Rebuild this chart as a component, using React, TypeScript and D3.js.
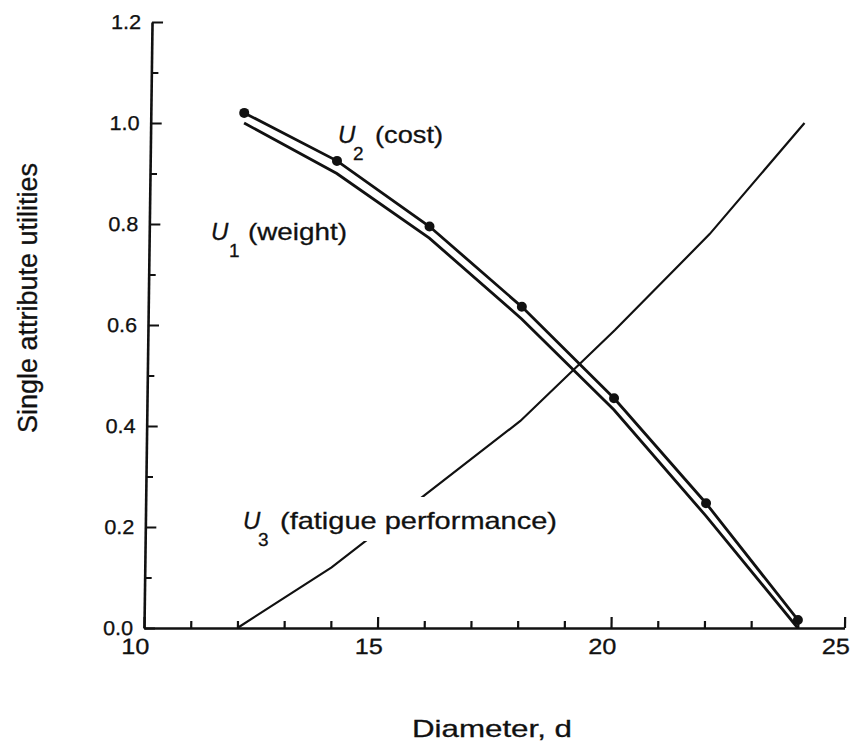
import { useEffect, useRef } from "react";
import * as d3 from "d3";

const W = 851;
const H = 747;

// diameter d at which the utilities were evaluated
const diameters = [12, 14, 16, 18, 20, 22, 24];
const costU2 = [1.02, 0.925, 0.795, 0.636, 0.455, 0.247, 0.016];
const weightU1 = [1.0, 0.9, 0.772, 0.612, 0.432, 0.222, 0.0];
const fatigueU3 = [0.0, 0.12, 0.265, 0.41, 0.59, 0.78, 1.0];

const yMajor = [0, 0.2, 0.4, 0.6, 0.8, 1.0, 1.2];
const yMinor = [0.1, 0.3, 0.5, 0.7, 0.9, 1.1];
const xMajor = [10, 15, 20, 25];
const xMinor = [11, 12, 13, 14, 16, 17, 18, 19, 21, 22, 23, 24];

// plot frame (px) – the scanned figure leans a little to the right at the top
const X0 = 144, X1 = 844.5;
const Y0 = 628, Y1 = 22;
const LEAN = -0.76; // degrees

const FONT = "'Liberation Sans', Arial, Helvetica, sans-serif";
const INK = "#111";

export default function App() {
  const svgRef = useRef<SVGSVGElement>(null);

  useEffect(() => {
    if (!svgRef.current) return;
    const svg = d3.select(svgRef.current);
    svg.selectAll("*").remove();

    const x = d3.scaleLinear().domain([10, 25]).range([X0, X1]);
    const y = d3.scaleLinear().domain([0, 1.2]).range([Y0, Y1]);

    svg.append("rect").attr("width", W).attr("height", H).attr("fill", "#fff");

    const g = svg.append("g")
      .attr("transform", `translate(0,${Y0}) skewX(${LEAN}) translate(0,${-Y0})`);

    const styleAxis = (sel: any, size: number) => {
      sel.attr("font-family", FONT).attr("font-size", size);
      sel.selectAll("text").attr("fill", INK).attr("stroke", INK).attr("stroke-width", 0.3);
      sel.selectAll("line").attr("stroke", INK).attr("stroke-width", 2.2);
      sel.select(".domain").attr("stroke", INK).attr("stroke-width", 2.6);
    };

    // ── Y axis ───────────────────────────────────────────────────────────────
    g.append("g")
      .attr("transform", `translate(${X0},0)`)
      .call(d3.axisLeft(y).tickValues(yMinor).tickSize(-7).tickSizeOuter(0).tickFormat(() => ""))
      .call((s: any) => styleAxis(s, 20))
      .call((s: any) => s.select(".domain").remove());

    g.append("g")
      .attr("transform", `translate(${X0},0)`)
      .call(d3.axisLeft(y).tickValues(yMajor).tickSize(-11).tickSizeOuter(0).tickPadding(11)
        .tickFormat(d3.format(".1f")))
      .call((s: any) => styleAxis(s, 20))
      .call((s: any) => s.selectAll("text").attr("textLength", 30).attr("lengthAdjust", "spacingAndGlyphs"));

    // ── X axis ───────────────────────────────────────────────────────────────
    g.append("g")
      .attr("transform", `translate(0,${Y0})`)
      .call(d3.axisBottom(x).tickValues(xMinor).tickSize(-7).tickSizeOuter(0).tickFormat(() => ""))
      .call((s: any) => styleAxis(s, 21))
      .call((s: any) => s.select(".domain").remove());

    g.append("g")
      .attr("transform", `translate(0,${Y0})`)
      .call(d3.axisBottom(x).tickValues(xMajor).tickSize(-11).tickSizeOuter(0).tickPadding(10)
        .tickFormat(d3.format("d")))
      .call((s: any) => styleAxis(s, 22))
      .call((s: any) => s.selectAll("text").attr("dx", -9).attr("textLength", 28).attr("lengthAdjust", "spacingAndGlyphs"));

    // ── Curves ───────────────────────────────────────────────────────────────
    const line = d3.line<number>()
      .x((_, i) => x(diameters[i]))
      .y(d => y(d));

    g.append("path")
      .attr("d", line(fatigueU3))
      .attr("fill", "none")
      .attr("stroke", INK)
      .attr("stroke-width", 2.2);

    // the fatigue curve is broken where its label sits
    svg.append("rect")
      .attr("x", 240).attr("y", 497)
      .attr("width", 322).attr("height", 44)
      .attr("fill", "#fff");

    g.append("path")
      .attr("d", line(weightU1))
      .attr("fill", "none")
      .attr("stroke", INK)
      .attr("stroke-width", 2.8);

    g.append("path")
      .attr("d", line(costU2))
      .attr("fill", "none")
      .attr("stroke", INK)
      .attr("stroke-width", 2.8);

    g.selectAll("circle.pt")
      .data(costU2)
      .join("circle")
      .attr("class", "pt")
      .attr("cx", (_, i) => x(diameters[i]))
      .attr("cy", d => y(d))
      .attr("r", 5)
      .attr("fill", INK);

    // ── Curve labels ─────────────────────────────────────────────────────────
    const label = (ux: number, base: number, sub: string, subX: number, rest: string, restX: number, restLen: number) => {
      const t = svg.append("g").attr("font-family", FONT).attr("fill", INK)
        .attr("stroke", INK).attr("stroke-width", 0.3);
      t.append("text").attr("x", ux).attr("y", base)
        .attr("font-size", 24).attr("font-style", "italic").text("U");
      t.append("text").attr("x", subX).attr("y", base + 17)
        .attr("font-size", 19).text(sub);
      t.append("text").attr("x", restX).attr("y", base)
        .attr("font-size", 24)
        .attr("textLength", restLen).attr("lengthAdjust", "spacingAndGlyphs")
        .text(rest);
    };
    label(338, 143, "2", 353, "(cost)", 375, 68);
    label(211, 240, "1", 229, "(weight)", 248, 99);
    label(243, 529, "3", 258, "(fatigue performance)", 280, 277);

    // ── Axis titles ──────────────────────────────────────────────────────────
    svg.append("text")
      .attr("x", 412).attr("y", 737)
      .attr("font-family", FONT).attr("font-size", 24).attr("fill", INK)
      .attr("stroke", INK).attr("stroke-width", 0.3)
      .attr("textLength", 160).attr("lengthAdjust", "spacingAndGlyphs")
      .text("Diameter, d");

    svg.append("text")
      .attr("transform", `translate(37,298) rotate(-90)`)
      .attr("text-anchor", "middle")
      .attr("font-family", FONT).attr("font-size", 27).attr("fill", INK)
      .attr("stroke", INK).attr("stroke-width", 0.3)
      .attr("textLength", 270).attr("lengthAdjust", "spacingAndGlyphs")
      .text("Single attribute utilities");
  }, []);

  return (
    <svg
      ref={svgRef}
      width={W}
      height={H}
      viewBox={`0 0 ${W} ${H}`}
      style={{ position: "absolute", left: 0, top: 0, display: "block" }}
    />
  );
}
